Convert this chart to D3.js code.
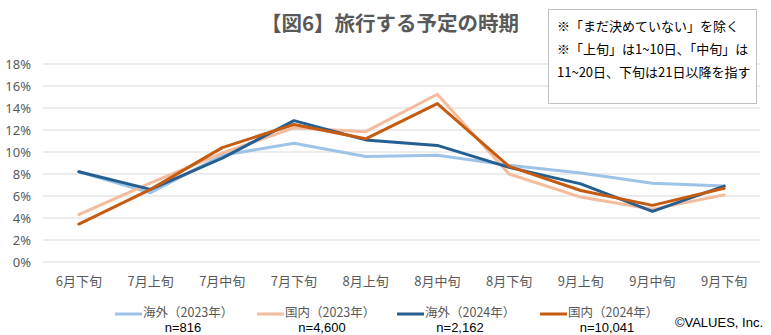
<!DOCTYPE html>
<html><head><meta charset="utf-8">
<script src="https://cdn.jsdelivr.net/npm/d3@7"></script>
<style>
html,body{margin:0;padding:0;background:#fff;}
svg{display:block;font-family:"Noto Sans CJK JP","Noto Sans",sans-serif;}
</style></head>
<body><svg id="c" width="771" height="335"></svg>
<script>
const categories = ["6月下旬","7月上旬","7月中旬","7月下旬","8月上旬","8月中旬","8月下旬","9月上旬","9月中旬","9月下旬"];
const overseas2023 = [8.2, 6.3, 9.7, 10.8, 9.6, 9.7, 8.8, 8.1, 7.15, 6.9];
const domestic2023 = [4.3, 7.2, 9.9, 12.2, 11.85, 15.25, 8.0, 5.9, 4.8, 6.1];
const overseas2024 = [8.2, 6.6, 9.45, 12.85, 11.1, 10.6, 8.6, 7.1, 4.6, 6.9];
const domestic2024 = [3.45, 6.6, 10.4, 12.5, 11.2, 14.4, 8.7, 6.5, 5.15, 6.7];
const seriesNames = ["海外（2023年）","国内（2023年）","海外（2024年）","国内（2024年）"];
const seriesN = ["n=816","n=4,600","n=2,162","n=10,041"];
const yTicks = [0,2,4,6,8,10,12,14,16,18];
const title = "【図6】旅行する予定の時期";
const noteLines = ["※「まだ決めていない」を除く","※「上旬」は1~10日、「中旬」は","11~20日、下旬は21日以降を指す"];
const credit = "©VALUES, Inc.";

(function(){
const colors = ["#9DC3E6","#F4BB9C","#255E91","#C55A11"];
const seriesData = [overseas2023, domestic2023, overseas2024, domestic2024];

const svg = d3.select("#c");
const pL = 43, pR = 760, pT = 64, pB = 262;
const x = d3.scaleBand().domain(categories).range([pL, pR]);
const y = d3.scaleLinear().domain([0, 18]).range([pB, pT]);
const txt = "#595959";

svg.append("g").selectAll("line").data(yTicks).join("line")
  .attr("x1", pL).attr("x2", pR)
  .attr("y1", d => y(d)).attr("y2", d => y(d))
  .attr("stroke", "#D9D9D9").attr("stroke-width", 1);

const yAxis = d3.axisLeft(y).tickValues(yTicks).tickFormat(d => d + "%").tickSize(0).tickPadding(0);
const gy = svg.append("g").attr("transform", `translate(${pL - 12},0)`).call(yAxis);
gy.select(".domain").remove();
gy.selectAll("text").attr("fill", txt).attr("font-size", 13).attr("font-family", "'Noto Sans','Noto Sans CJK JP',sans-serif");

const xAxis = d3.axisBottom(x).tickSize(0).tickPadding(0);
const gx = svg.append("g").attr("transform", `translate(0,${pB + 15})`).call(xAxis);
gx.select(".domain").remove();
gx.selectAll("text").attr("fill", txt).attr("font-size", 13).attr("font-family", "'Noto Sans CJK JP',sans-serif");

const line = d3.line().x((d, i) => x(categories[i]) + x.bandwidth() / 2).y(d => y(d));
seriesData.forEach((s, k) => {
  svg.append("path").datum(s).attr("d", line)
    .attr("fill", "none").attr("stroke", colors[k]).attr("stroke-width", 3)
    .attr("stroke-linejoin", "round").attr("stroke-linecap", "round");
});

svg.append("text").attr("x", 390).attr("y", 31).attr("text-anchor", "middle")
  .attr("font-size", 20.5).attr("font-weight", "bold").attr("fill", txt).text(title);

svg.append("rect").attr("x", 548.5).attr("y", 9.5).attr("width", 208).attr("height", 94)
  .attr("fill", "#fff").attr("stroke", "#BFBFBF").attr("stroke-width", 1);
noteLines.forEach((t, i) => {
  svg.append("text").attr("x", 557).attr("y", 31 + i * 23).attr("font-size", 13)
    .attr("fill", "#000").text(t);
});

const swX = [115, 257, 397, 540];
const nX = [183, 322, 460, 607];
seriesNames.forEach((nm, k) => {
  svg.append("line").attr("x1", swX[k]).attr("x2", swX[k] + 27)
    .attr("y1", 314).attr("y2", 314).attr("stroke", colors[k]).attr("stroke-width", 3);
  svg.append("text").attr("x", swX[k] + 28).attr("y", 316.5).attr("font-size", 12.5)
    .attr("fill", txt).text(nm);
  svg.append("text").attr("x", nX[k]).attr("y", 332).attr("text-anchor", "middle")
    .attr("font-size", 13).attr("fill", "#000").attr("font-family", "'Liberation Sans',Arial,sans-serif").text(seriesN[k]);
});
svg.append("text").attr("x", 763).attr("y", 327).attr("text-anchor", "end")
  .attr("font-size", 13).attr("fill", "#000").attr("font-family", "'Liberation Sans',Arial,sans-serif").text(credit);
})();
</script></body></html>
